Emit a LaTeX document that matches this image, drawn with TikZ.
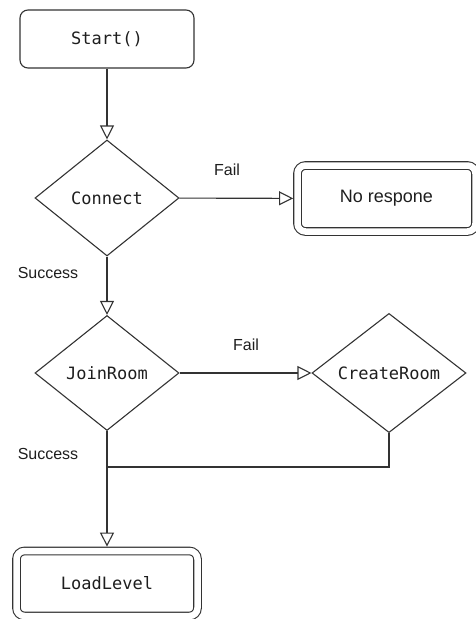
\documentclass[tikz,border=0pt]{standalone}
\usepackage{fontspec}
\setmainfont{Liberation Sans}
\setmonofont{DejaVu Sans Mono}
\usetikzlibrary{shapes.geometric,arrows.meta}
\definecolor{linegray}{HTML}{333333}
\definecolor{textgray}{HTML}{1E1E1E}
\tikzset{
  stepbox/.style={
    draw=linegray,line width=1.1pt,rounded corners=8pt,
    text=textgray,font=\ttfamily\fontsize{17}{19}\selectfont
  },
  endbox/.style={
    stepbox,double,double distance=6.5pt,outer sep=4.4pt
  },
  decision/.style={
    diamond,draw=linegray,line width=1.1pt,inner sep=1pt,
    text=textgray,font=\ttfamily\fontsize{17}{19}\selectfont
  },
  flow/.style={
    draw=linegray,line width=1.1pt,
    -{Triangle[open,length=14pt,width=14pt]}
  },
  link/.style={draw=linegray,line width=1.1pt},
  lbl/.style={text=textgray,font=\fontsize{16}{18}\selectfont}
}

\begin{document}
\begin{tikzpicture}[x=1pt,y=-1pt]
\useasboundingbox (0,0) rectangle (476,619);
\node[stepbox,minimum width=174pt,minimum height=58pt] (start) at (107,39) {Start()};
\node[decision,minimum width=144pt,minimum height=116pt] (connect) at (107,198) {Connect};
\node[endbox,minimum width=178pt,minimum height=66pt,font=\fontsize{18}{20}\selectfont] (noresp) at (386.5,198.5) {No respone};
\node[decision,minimum width=144pt,minimum height=115pt] (join) at (107,373) {JoinRoom};
\node[decision,minimum width=154pt,minimum height=116pt] (create) at (389,373) {CreateRoom};
\node[endbox,minimum width=181pt,minimum height=65pt] (load) at (107,583.5) {LoadLevel};
\coordinate (merge) at (107,467);
% labels
\node[lbl] (failconnect) at (227,170) {Fail};
\node[lbl] (okconnect) at (48,273) {Success};
\node[lbl] (failjoin) at (246,345) {Fail};
\node[lbl] (okjoin) at (48,454) {Success};
\draw[flow] (start) -- (connect);
\draw[flow] (connect) -- (noresp);
\draw[flow] (connect) -- (join);
\draw[flow] (join) -- (create);
\draw[link] (create.south) |- (merge);
\draw[flow] (join) -- (load);
\end{tikzpicture}
\end{document}
